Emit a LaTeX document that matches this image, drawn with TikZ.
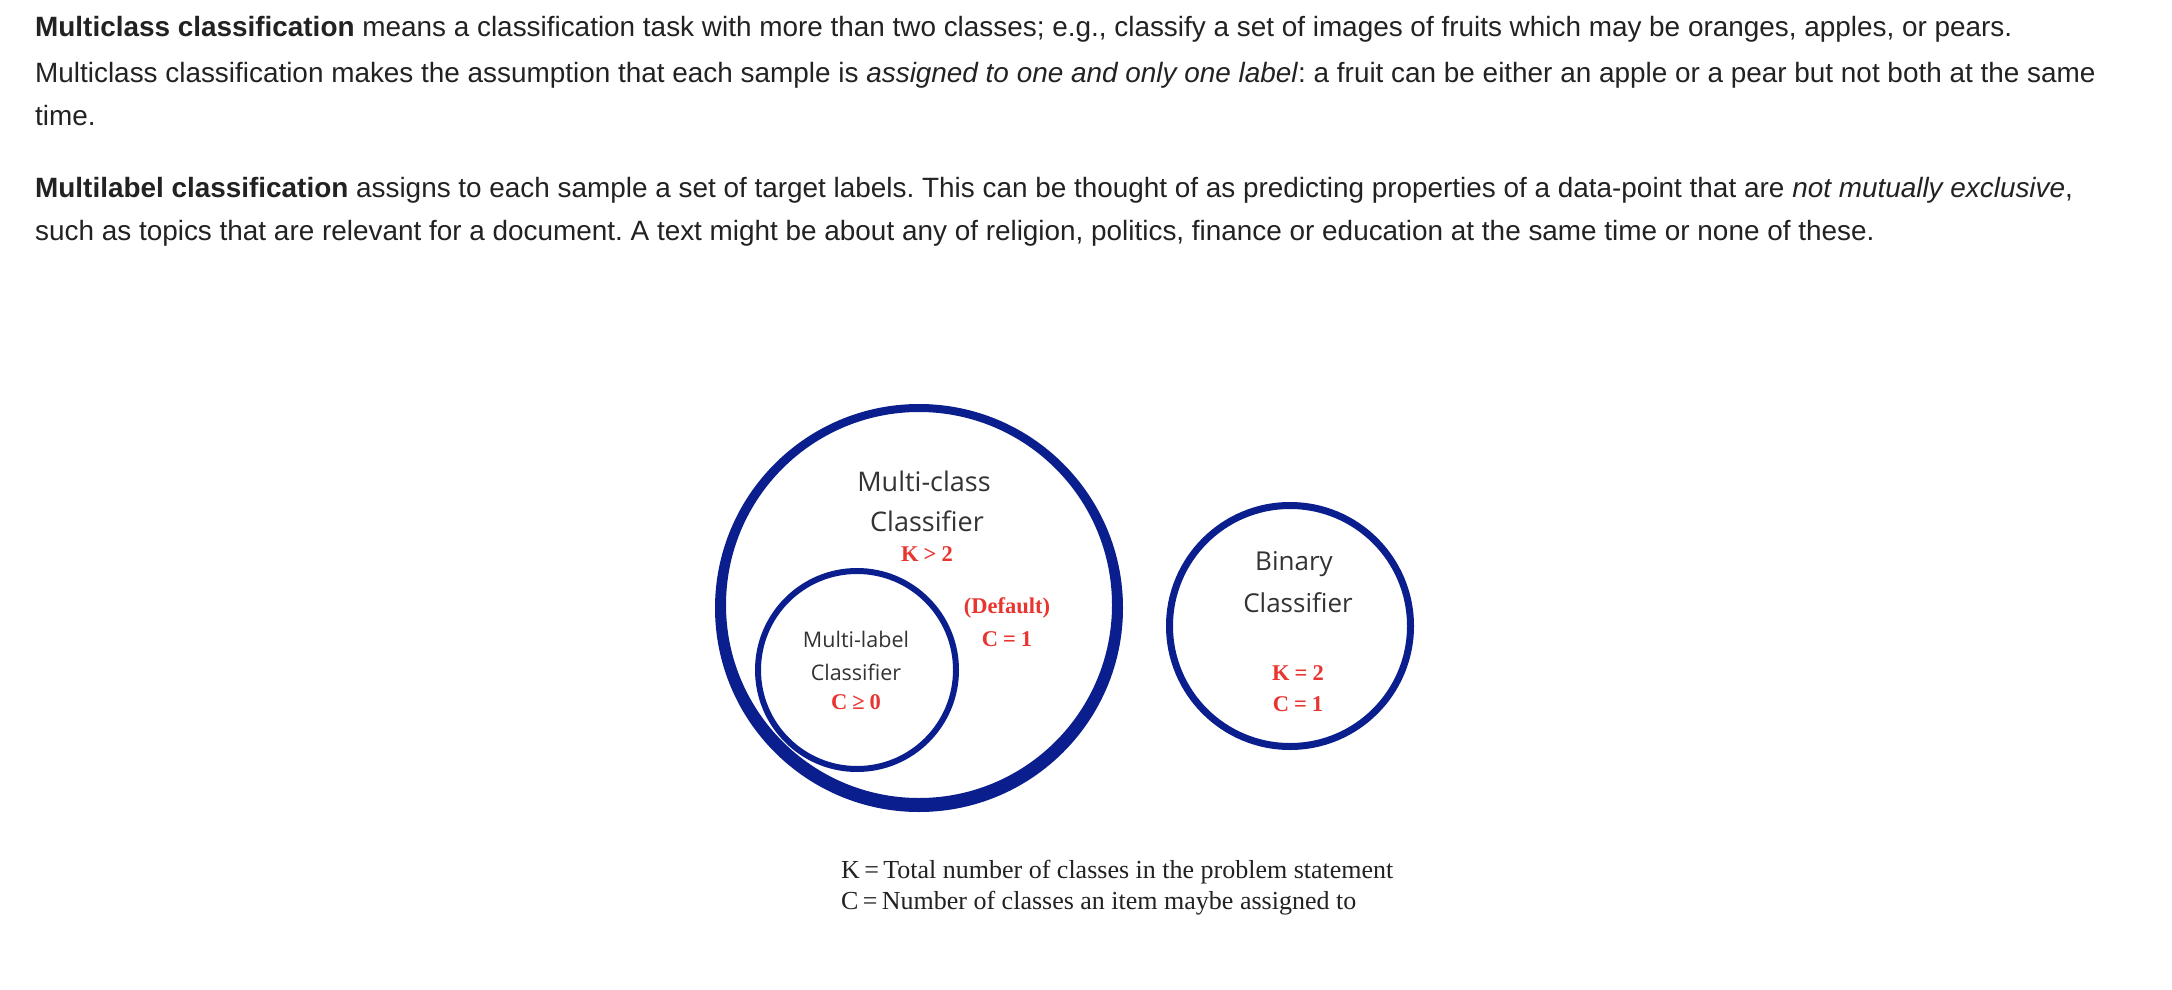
\documentclass[tikz,border=0pt]{standalone}
\usepackage{fontspec}
\setmainfont{Liberation Sans}
\newfontfamily\osans{Open Sans}
\newfontfamily\lserif{Liberation Serif}
\definecolor{navy}{HTML}{0B1E8E}
\definecolor{redlab}{HTML}{E8352F}
\definecolor{txt}{HTML}{222222}
\definecolor{ctxt}{HTML}{333333}
\frenchspacing
\begin{document}
\begin{tikzpicture}[x=1pt,y=-1pt,
  para/.style={anchor=base west,inner sep=0pt,text=txt,font=\fontsize{27.9}{30}\selectfont},
  cname/.style={inner sep=0pt,text=ctxt},
  redl/.style={inner sep=0pt,text=redlab,font=\lserif\bfseries\fontsize{22.5}{24}\selectfont},
  legend/.style={anchor=west,inner sep=0pt,text=txt,font=\lserif\fontsize{26}{28}\selectfont},
  ring/.style={draw=navy,circle,inner sep=0pt}]
\useasboundingbox (0,0) rectangle (2172,990);
\fill[white] (0,0) rectangle (2172,990);
% paragraphs
\node[para] (p1) at (35,37) {\textbf{Multiclass classification} means a classification task with more than two classes; e.g., classify a set of images of fruits which may be oranges, apples, or pears.};
\node[para] (p2) at (35,82) {Multiclass classification makes the assumption that each sample is \textit{assigned to one and only one label}: a fruit can be either an apple or a pear but not both at the same};
\node[para] (p3) at (35,125) {time.};
\node[para] (q1) at (35,197) {\textbf{Multilabel classification} assigns to each sample a set of target labels. This can be thought of as predicting properties of a data-point that are \textit{not mutually exclusive},};
\node[para] (q2) at (35,240) {such as topics that are relevant for a document. A text might be about any of religion, politics, finance or education at the same time or none of these.};
% big circle (thicker at the bottom)
\fill[navy,even odd rule] (919,608) circle (204) (919,605) circle (193);
\node[ring,line width=6pt,minimum size=198pt] (ml) at (857,670) {};
\node[ring,line width=7pt,minimum size=241pt] (bin) at (1290,626) {};
% labels
\node[cname,font=\osans\fontsize{27}{30}\selectfont] (mc1) at (924,481) {Multi-class};
\node[cname,font=\osans\fontsize{27}{30}\selectfont] (mc2) at (927,521) {Classifier};
\node[redl] (k1) at (927,554) {K\:>\:2};
\node[redl] (def) at (1007,608) {(Default)};
\node[redl] (c1) at (1007,639) {C\:=\:1};
\node[cname,font=\osans\fontsize{21.5}{24}\selectfont] (ml1) at (856,639) {Multi-label};
\node[cname,font=\osans\fontsize{21.5}{24}\selectfont] (ml2) at (856,672) {Classifier};
\node[redl] (c0) at (856,702) {C\:≥\:0};
\node[cname,font=\osans\fontsize{26}{30}\selectfont] (b1) at (1294,564) {Binary};
\node[cname,font=\osans\fontsize{26}{30}\selectfont] (b2) at (1298,603) {Classifier};
\node[redl] (k2) at (1298,673) {K\:=\:2};
\node[redl] (c2) at (1298,704) {C\:=\:1};
% legend
\node[legend] (lk) at (841,872) {K\,=\,Total number of classes in the problem statement};
\node[legend] (lc) at (841,903) {C\,=\,Number of classes an item maybe assigned to};
\end{tikzpicture}
\end{document}
